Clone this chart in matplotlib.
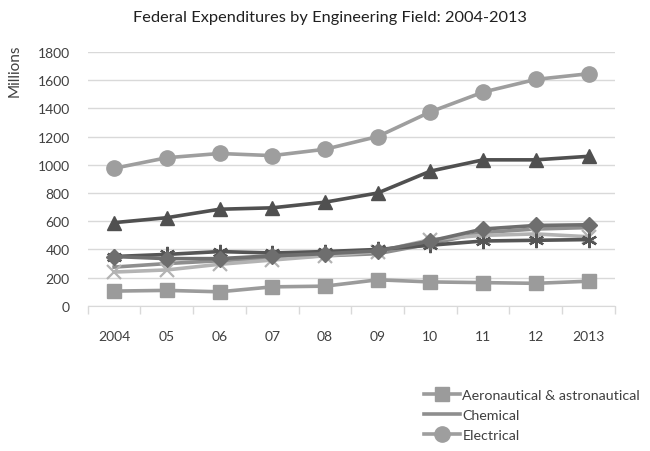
import matplotlib
matplotlib.use("Agg")
import matplotlib.pyplot as plt

plt.rcParams['font.family'] = ['Lato', 'DejaVu Sans']

years = ["2004", "05", "06", "07", "08", "09", "10", "11", "12", "2013"]

aeronautical = [105, 110, 100, 135, 140, 185, 170, 165, 160, 175]
chemical = [275, 300, 320, 340, 355, 370, 440, 520, 545, 555]
electrical = [975, 1050, 1080, 1065, 1110, 1200, 1375, 1515, 1605, 1645]
mechanical = [590, 625, 685, 695, 735, 800, 955, 1035, 1035, 1060]
civil = [240, 255, 295, 325, 355, 385, 470, 500, 510, 490]
materials = [350, 365, 385, 375, 385, 400, 430, 460, 465, 470]
other = [350, 335, 335, 355, 370, 390, 460, 545, 570, 575]

series = [
    ("Aeronautical & astronautical", aeronautical, dict(color="#9b9b9b", marker="s", ms=10)),
    ("Chemical", chemical, dict(color="#8e8e8e", marker=None)),
    ("Electrical", electrical, dict(color="#9e9e9e", marker="o", ms=11)),
    ("Mechanical", mechanical, dict(color="#505050", marker="^", ms=10)),
    ("Civil", civil, dict(color="#b3b3b3", marker="x", ms=10, mew=1.6)),
    ("Metallurgical & materials", materials, dict(color="#555555", marker=(6, 2, 0), ms=11, mew=1.6)),
    ("Other", other, dict(color="#6e6e6e", marker="D", ms=8)),
]

fig = plt.figure(figsize=(6.5, 4.52), dpi=100)
ax = fig.add_axes([0.135, 0.321, 0.811, 0.562])

x = list(range(len(years)))
handles = []
for name, vals, st in series:
    ln, = ax.plot(x, vals, lw=2.6, label=name, **st)
    handles.append(ln)

ax.set_xlim(-0.5, len(years) - 0.5)
ax.set_ylim(0, 1800)
ax.set_yticks(range(0, 1801, 200))
ax.yaxis.grid(True, color="#d9d9d9", lw=1)
ax.set_axisbelow(True)

ax.set_xticks(x)
ax.set_xticklabels(years)
ax.set_xticks([i - 0.5 for i in range(len(years) + 1)], minor=True)
ax.tick_params(axis="x", which="major", length=0, pad=17, labelsize=10, labelcolor="#404040")
ax.tick_params(axis="x", which="minor", length=6, color="#d9d9d9", width=1)
ax.tick_params(axis="y", length=0, pad=13, labelsize=10, labelcolor="#404040")

for s in ["top", "right", "left"]:
    ax.spines[s].set_visible(False)
ax.spines["bottom"].set_color("#d9d9d9")

ax.set_ylabel("Millions", fontsize=11, color="#404040")
ax.yaxis.set_label_coords(-0.125, 0.93)

fig.suptitle("Federal Expenditures by Engineering Field: 2004-2013",
             x=0.508, y=0.975, fontsize=11.8, color="#202020")

fig.legend(handles=handles[:3], loc="upper left", bbox_to_anchor=(0.652, 0.137),
           frameon=False, fontsize=10.3, labelcolor="#404040", handlelength=2.5,
           handletextpad=0.2, labelspacing=0.55, borderaxespad=0, borderpad=0)

fig.savefig("out.png", dpi=100)
